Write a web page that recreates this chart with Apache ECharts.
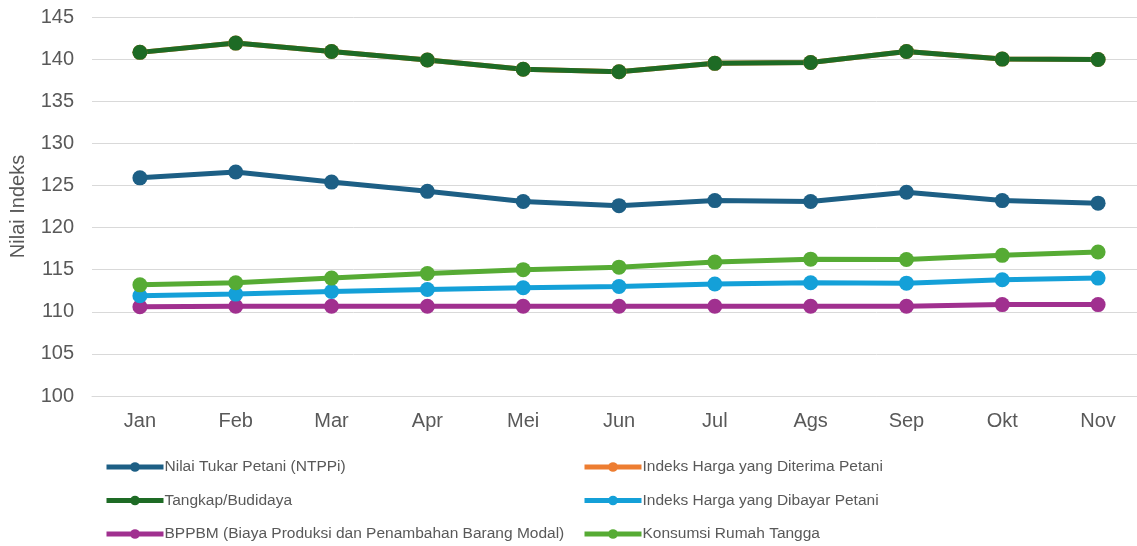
<!DOCTYPE html>
<html>
<head>
<meta charset="utf-8">
<script src="https://cdn.jsdelivr.net/npm/echarts@6/dist/echarts.min.js"></script>
<style>
  html, body { margin: 0; padding: 0; background: #fff; }
  #chart { width: 1137px; height: 546px; }
</style>
</head>
<body>
<div id="chart"></div>
<script>
// bulan
const months = ['Jan', 'Feb', 'Mar', 'Apr', 'Mei', 'Jun', 'Jul', 'Ags', 'Sep', 'Okt', 'Nov'];

// nilai indeks per seri
const ntppi     = [125.9, 126.6, 125.4, 124.3, 123.1, 122.6, 123.2, 123.1, 124.2, 123.2, 122.9];
const diterima  = [140.8, 141.9, 140.9, 139.9, 138.8, 138.5, 139.5, 139.6, 140.9, 140.0, 139.95];
const tangkap   = [140.8, 141.9, 140.9, 139.9, 138.8, 138.5, 139.5, 139.6, 140.9, 140.0, 139.95];
const dibayar   = [111.9, 112.1, 112.4, 112.65, 112.85, 113.0, 113.3, 113.45, 113.4, 113.8, 114.0];
const bppbm     = [110.6, 110.65, 110.65, 110.65, 110.65, 110.65, 110.65, 110.65, 110.65, 110.85, 110.85];
const konsumsi  = [113.2, 113.45, 114.0, 114.55, 115.0, 115.3, 115.9, 116.25, 116.2, 116.7, 117.1];

const yTicks = { min: 100, max: 145, interval: 5 };

const chart = echarts.init(document.getElementById('chart'));
const textColor = '#595959';

function line(name, data, color) {
    return {
        name: name,
        type: 'line',
        data: data,
        symbol: 'circle',
        symbolSize: 15,
        lineStyle: { width: 5, color: color },
        itemStyle: { color: color },
        emphasis: { disabled: true },
        animation: false
    };
}

const legendCommon = {
    orient: 'vertical',
    top: 459,
    padding: 0,
    itemWidth: 57,
    itemHeight: 12,
    itemGap: 17.5,
    lineStyle: { width: 5 },
    textStyle: { color: textColor, fontSize: 15.5, fontFamily: 'Liberation Sans', padding: [0, 0, 0, -4] },
    selectedMode: false
};

chart.setOption({
    backgroundColor: '#fff',
    grid: { left: 92, width: 1054, top: 17, bottom: 150, outerBoundsMode: 'none', containLabel: false },
    legend: [
        Object.assign({ left: 104, data: ['Nilai Tukar Petani (NTPPi)', 'Tangkap/Budidaya', 'BPPBM (Biaya Produksi dan Penambahan Barang Modal)'] }, legendCommon),
        Object.assign({ left: 582, data: ['Indeks Harga yang Diterima Petani', 'Indeks Harga yang Dibayar Petani', 'Konsumsi Rumah Tangga'] }, legendCommon)
    ],
    xAxis: {
        type: 'category',
        data: months,
        boundaryGap: true,
        axisLine: { show: true, lineStyle: { color: '#d9d9d9', width: 1 } },
        axisTick: { show: false },
        axisLabel: { color: textColor, fontSize: 20, margin: 15, fontFamily: 'Liberation Sans' }
    },
    yAxis: {
        type: 'value',
        min: yTicks.min,
        max: yTicks.max,
        interval: yTicks.interval,
        name: 'Nilai Indeks',
        nameLocation: 'middle',
        nameGap: 64,
        nameTextStyle: { color: textColor, fontSize: 20, fontFamily: 'Liberation Sans' },
        axisLine: { show: false },
        axisTick: { show: false },
        splitLine: { lineStyle: { color: '#d9d9d9', width: 1 } },
        axisLabel: { color: textColor, fontSize: 20, margin: 18, fontFamily: 'Liberation Sans' }
    },
    series: [
        line('Indeks Harga yang Diterima Petani', diterima, '#ed7d31'),
        line('Nilai Tukar Petani (NTPPi)', ntppi, '#1d5f85'),
        line('Tangkap/Budidaya', tangkap, '#1e6b25'),
        line('BPPBM (Biaya Produksi dan Penambahan Barang Modal)', bppbm, '#a0308f'),
        line('Indeks Harga yang Dibayar Petani', dibayar, '#14a0d8'),
        line('Konsumsi Rumah Tangga', konsumsi, '#56ab34')
    ]
});
</script>
</body>
</html>
